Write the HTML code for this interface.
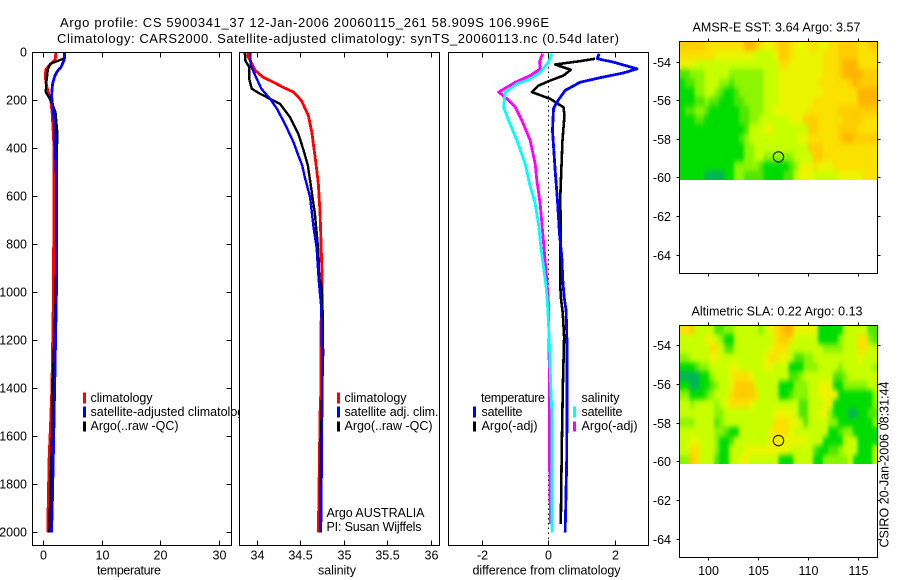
<!DOCTYPE html>
<html lang="en">
<head>
<meta charset="utf-8">
<title>Argo profile</title>
<style>
html,body{margin:0;padding:0;background:#fff;}
svg{display:block;font-family:"Liberation Sans",sans-serif;font-size:12.5px;fill:#000;}
text{fill:#000;}
</style>
</head>
<body>
<svg id="chart" xmlns="http://www.w3.org/2000/svg" width="900" height="580" viewBox="0 0 900 580">
<defs>
  <filter id="map-smooth" x="-5%" y="-5%" width="110%" height="110%" color-interpolation-filters="sRGB">
    <feGaussianBlur in="SourceGraphic" stdDeviation="1.6 2.6" result="soft"/>
    <feMerge><feMergeNode in="SourceGraphic"/><feMergeNode in="soft"/></feMerge>
  </filter>
  <clipPath id="clip-sst"><rect x="679.5" y="41.5" width="198" height="138.5"/></clipPath>
  <clipPath id="clip-sla"><rect x="679.5" y="325.5" width="198" height="138.5"/></clipPath>
</defs>
<rect x="0" y="0" width="900" height="580" fill="#fff"/>
<text x="60" y="27" font-size="13" textLength="489" lengthAdjust="spacing">Argo profile: CS 5900341_37 12-Jan-2006 20060115_261 58.909S 106.996E</text>
<text x="57" y="43" font-size="13" textLength="562" lengthAdjust="spacing">Climatology: CARS2000. Satellite-adjusted climatology: synTS_20060113.nc (0.54d later)</text>

<g id="panel-temp"></g>
<g id="panel-sal"></g>
<g id="panel-diff"></g>
<g id="panel-sst"></g>
<g id="panel-sla"></g>

<g id="legends">
  <rect x="337" y="392.5" width="3" height="11" fill="#f00"/>
  <rect x="337" y="406.5" width="3" height="11" fill="#00f"/>
  <rect x="337" y="421.5" width="3" height="10" fill="#000"/>
  <text x="344.5" y="402" textLength="62" lengthAdjust="spacing">climatology</text>
  <text x="344.5" y="416" textLength="94" lengthAdjust="spacing">satellite adj. clim.</text>
  <text x="344.5" y="430" textLength="88" lengthAdjust="spacing">Argo(..raw -QC)</text>
  <text x="326.5" y="517" textLength="98" lengthAdjust="spacing">Argo AUSTRALIA</text>
  <text x="326.5" y="531" textLength="95" lengthAdjust="spacing">PI: Susan Wijffels</text>

  <text x="481" y="402" textLength="64" lengthAdjust="spacing">temperature</text>
  <rect x="473" y="406.5" width="3" height="11" fill="#00f"/>
  <rect x="473" y="421.5" width="3" height="10" fill="#000"/>
  <text x="481.5" y="416" textLength="41" lengthAdjust="spacing">satellite</text>
  <text x="481.5" y="430" textLength="56" lengthAdjust="spacing">Argo(-adj)</text>
  <text x="581.5" y="402" textLength="38" lengthAdjust="spacing">salinity</text>
  <rect x="573" y="406.5" width="3" height="11" fill="#0ff"/>
  <rect x="573" y="421.5" width="3" height="10" fill="#f0f"/>
  <text x="581.5" y="416" textLength="41" lengthAdjust="spacing">satellite</text>
  <text x="581.5" y="430" textLength="56" lengthAdjust="spacing">Argo(-adj)</text>
</g>

<text x="97" y="574.5" textLength="64" lengthAdjust="spacing">temperature</text>
<text x="318" y="574.5" textLength="38" lengthAdjust="spacing">salinity</text>
<text x="472.5" y="574.5" textLength="148" lengthAdjust="spacing">difference from climatology</text>
<text x="692.5" y="31.5" textLength="168" lengthAdjust="spacing">AMSR-E SST: 3.64  Argo: 3.57</text>
<text x="691.5" y="315.5" textLength="171" lengthAdjust="spacing">Altimetric SLA: 0.22  Argo: 0.13</text>
<text transform="translate(888.5,547.5) rotate(-90)" textLength="166" lengthAdjust="spacing">CSIRO 20-Jan-2006 08:31:44</text>
</svg>

<script>
// ---- axis ticks ----
const depthTicks = [0,200,400,600,800,1000,1200,1400,1600,1800,2000];
const tempTicks = [0,10,20,30];
const salTicks = [34,34.5,35,35.5,36];
const salTickLabels = ['34','34.5','35','35.5','36'];
const diffTicks = [-2,0,2];
const lonTicks = [100,105,110,115];
const latTicks = [-54,-56,-58,-60,-62,-64];

// ---- temperature panel ----
const tempClimDepth = [0,30,50,70,100,130,160,200,260,400,1000,1400,1550,1680,1880,2000];
const tempClimValue = [2.1,2.0,1.15,0.4,0.3,0.45,0.75,1.25,1.5,1.8,1.7,1.43,1.2,0.97,0.8,0.75];
const tempSatDepth = [0,30,60,80,100,130,180,220,300,400,530,1000,1400,1450,1650,1880,2000];
const tempSatValue = [3.6,3.55,3.0,2.3,1.9,1.55,1.37,1.55,1.9,2.0,2.2,2.2,1.9,1.85,1.7,1.5,1.37];
const tempArgoDepth = [26,47,70,100,130,165,190,220,250,330,530,1000,1400,1600,1800,2000];
const tempArgoValue = [3.4,1.15,0.75,0.6,0.45,0.4,1.0,1.6,2.05,2.33,2.25,2.1,1.55,1.45,1.2,1.0];

// ---- salinity panel ----
const salClimDepth = [0,12,33,75,103,124,145,165,200,262,332,401,470,547,672,783,950,1150,1400,1500,1880,2000];
const salClimValue = [33.90,33.89,33.92,33.98,34.07,34.19,34.30,34.42,34.51,34.59,34.63,34.655,34.68,34.705,34.725,34.735,34.75,34.735,34.735,34.725,34.71,34.705];
const salSatDepth = [0,54,96,151,193,235,297,374,429,471,520,603,728,811,950,1047,1145,1395,1680,2000];
const salSatValue = [33.92,33.93,33.98,34.05,34.15,34.23,34.32,34.42,34.475,34.52,34.55,34.61,34.65,34.685,34.71,34.735,34.745,34.75,34.745,34.735];
const salArgoDepth = [0,33,61,110,151,172,193,214,270,339,401,471,533,671,825,936,978,1089,1255,1400,1680,2000];
const salArgoValue = [33.86,33.865,33.91,33.91,33.94,34.035,34.15,34.265,34.38,34.475,34.53,34.585,34.61,34.665,34.705,34.715,34.745,34.755,34.76,34.75,34.73,34.725];

// ---- difference panel ----
const diffTempSatDepth = [5,26,40,68,85,105,124,158,207,235,325,492,617,755,853,950,1019,1075,1228,1680,1880,2000];
const diffTempSatValue = [1.52,1.47,1.95,2.66,2.26,1.55,0.95,0.50,0.25,0.15,0.12,0.20,0.27,0.33,0.40,0.43,0.47,0.53,0.56,0.55,0.52,0.50];
const diffTempArgoDepth = [26,36,50,72,96,117,138,165,193,228,262,367,617,700,950,1019,1087,1186,1400,1640,1857,1965];
const diffTempArgoValue = [1.40,0.95,0.20,0.67,0.45,0.05,-0.30,-0.50,0.05,0.45,0.48,0.42,0.35,0.37,0.35,0.37,0.43,0.47,0.43,0.40,0.38,0.37];
const diffSalSatDepth = [5,40,82,110,131,165,228,283,367,464,547,631,714,811,894,978,1047,1130,1228,1400,1500,2000];
const diffSalSatValue = [0.10,0,-0.25,-0.55,-0.95,-1.30,-1.35,-1.20,-0.95,-0.70,-0.57,-0.40,-0.30,-0.23,-0.15,-0.07,-0.03,0,0.03,0.07,0.10,0.11];
const diffSalArgoDepth = [5,40,68,96,124,165,193,228,283,367,464,533,631,742,838,950,1047,1400,1700,1965];
const diffSalArgoValue = [-0.18,-0.27,-0.25,-0.55,-1.0,-1.50,-1.25,-1.0,-0.80,-0.55,-0.40,-0.35,-0.25,-0.18,-0.12,-0.05,0,0.03,0.03,0.06];

// ---- map markers ----
const floatLon = 106.996;
const floatLat = -58.909;

// ---- SST map, colour level per cell, north to south ----
const sstRows = [
[7,7,7,7,7,6,6,6,6,6,6,6,6,8,8,7,6,5,5,6,7,7,6,5,5,5,6,6,5,5,6,6,7,7,7,7,6,6,7,7],
[6,6,6,6,6,6,6,5,5,5,5,5,5,5,5,4,4,4,4,5,7,7,6,5,5,5,5,5,5,6,6,6,7,7,7,7,6,6,6,6],
[5,5,5,4,4,4,4,4,4,4,4,4,4,4,4,4,4,4,4,4,6,6,5,5,5,5,5,5,5,6,6,6,7,8,8,8,6,6,6,6],
[2,2,3,3,3,4,4,4,4,4,3,3,3,3,3,3,3,4,4,4,5,5,5,5,5,5,5,5,5,6,6,6,7,8,8,8,8,7,7,7],
[1,2,2,3,3,4,4,4,3,3,2,3,3,3,3,3,3,4,4,4,5,5,5,5,5,5,5,5,6,6,6,6,6,6,7,8,7,7,7,7],
[1,1,1,3,3,4,4,3,2,1,1,2,3,3,3,3,3,4,4,4,5,5,5,5,5,5,5,5,5,6,6,6,6,6,6,6,8,8,8,8],
[1,1,1,2,2,3,2,2,1,1,1,2,2,3,3,3,3,4,4,4,5,5,5,5,5,5,5,6,6,6,6,6,6,6,6,6,8,8,8,8],
[1,2,2,3,3,2,1,1,1,1,1,1,2,2,3,3,3,4,4,5,5,5,5,5,5,5,6,6,6,6,6,6,7,7,7,7,7,7,7,7],
[1,1,1,2,2,1,1,1,1,1,1,1,2,2,3,3,4,4,4,4,4,4,5,5,5,7,7,7,6,6,6,6,6,7,7,7,7,6,6,6],
[1,1,1,1,1,1,1,1,1,1,1,1,1,2,4,4,4,5,5,4,4,4,4,4,4,4,7,7,6,6,6,6,7,7,7,7,6,6,6,6],
[1,1,1,1,1,1,1,1,1,1,1,1,2,3,4,4,4,4,4,4,4,4,4,4,5,5,6,6,6,6,6,6,7,8,8,7,7,7,7,7],
[1,1,1,1,1,1,1,1,1,1,1,1,1,3,3,4,4,4,4,4,4,4,4,4,4,4,7,7,7,6,6,6,6,6,6,6,6,6,6,6],
[1,1,1,1,1,1,1,1,1,1,1,1,1,3,3,4,4,3,3,3,3,3,3,4,4,4,4,7,7,6,6,6,6,6,6,6,6,6,6,6],
[1,1,1,1,1,1,1,1,1,1,1,3,3,3,3,3,2,1,1,1,1,1,2,3,5,5,5,6,5,5,5,6,6,6,6,6,6,6,6,6],
[1,1,1,1,1,0,0,0,0,1,1,3,3,2,2,2,2,1,1,1,1,2,2,4,5,5,5,4,4,4,4,4,5,5,5,5,5,6,6,6]
];

// ---- SLA map, colour level per cell, north to south ----
const slaRows = [
[6,6,7,4,4,4,4,2,2,3,3,4,4,4,4,4,3,4,5,6,7,8,8,5,5,5,5,5,1,1,1,1,1,4,4,4,4,4,2,2],
[4,4,4,4,4,5,5,4,3,1,1,4,4,4,4,4,4,4,4,6,7,7,6,4,4,4,4,4,1,1,1,1,3,4,4,4,6,6,3,2],
[4,4,4,4,4,4,6,6,4,2,2,4,4,4,4,4,4,4,5,6,6,6,4,4,4,4,4,4,4,3,3,3,3,4,4,4,6,6,4,4],
[3,3,4,4,4,4,5,5,4,4,4,4,4,4,4,4,4,5,6,6,5,5,4,2,2,3,3,4,4,4,4,4,4,4,4,4,5,4,4,4],
[1,1,1,2,3,3,4,4,4,4,5,5,4,4,4,4,4,5,5,4,4,4,1,1,1,3,3,3,4,4,4,4,3,4,4,4,4,4,4,3],
[0,0,0,0,1,1,3,4,4,4,5,6,6,6,5,4,4,4,4,4,4,4,2,2,3,4,4,4,4,4,4,2,2,3,4,4,4,4,4,4],
[1,1,0,0,1,1,2,3,4,4,5,7,7,7,7,4,4,4,4,4,1,1,1,3,3,3,4,4,5,5,5,1,1,3,3,3,3,3,4,4],
[3,3,1,1,1,2,3,4,4,4,6,7,7,7,7,6,4,4,4,4,1,1,2,3,3,3,4,4,5,5,5,5,1,1,1,1,1,1,1,3],
[4,4,3,4,4,4,4,3,4,5,6,6,6,6,5,4,4,4,4,4,4,4,4,4,2,2,4,4,4,5,5,1,1,1,1,1,1,1,1,3],
[4,4,4,4,4,4,4,3,3,4,4,4,4,4,4,4,4,4,4,5,5,5,5,4,2,2,4,4,5,5,3,1,1,1,0,0,1,1,2,2],
[3,3,3,4,4,4,4,2,3,4,4,4,4,4,4,4,4,4,4,6,6,6,5,5,4,2,4,4,4,4,3,3,1,1,1,1,1,1,1,3],
[4,4,4,4,4,4,4,3,3,2,1,1,4,4,4,4,4,4,5,6,6,6,5,4,4,4,4,4,4,4,1,1,2,3,3,1,1,1,1,1],
[4,4,5,5,4,4,4,3,1,1,2,4,4,4,4,4,4,4,5,6,5,5,5,5,5,5,4,4,4,1,1,1,1,4,4,4,1,1,1,1],
[4,4,6,6,4,4,4,3,1,1,4,4,4,5,5,5,5,5,5,5,5,5,4,4,4,4,4,2,1,1,2,2,3,4,4,4,1,1,1,4],
[3,3,7,6,4,4,4,2,1,1,4,4,5,5,4,4,4,4,4,4,1,1,1,4,4,4,4,1,1,3,3,3,3,3,4,1,1,1,1,4]
];

const NS = 'http://www.w3.org/2000/svg';
const levelColors = ['#00b45a','#00dc00','#50e600','#8cf500','#c8ff00','#ebf500','#fae100','#ffcd00','#ffb400'];

function make(tag, parent, attrs, txt) {
  const el = document.createElementNS(NS, tag);
  for (const k in attrs) el.setAttribute(k, attrs[k]);
  if (txt !== undefined) el.textContent = txt;
  parent.appendChild(el);
  return el;
}

// axis functions
const yDepth = d => 52.5 + 0.24 * d;
const xTemp = v => 43.5 + 5.87 * v;
const xSal = v => 257 + 87 * (v - 34);
const xDiff = v => 548.5 + 33.25 * v;
const xLon = v => 708.5 + 10 * (v - 100);
const ySst = v => 62 + 19.33 * (-54 - v);
const ySla = v => 345.7 + 19.33 * (-54 - v);

function tickLine(parent, x1, y1, x2, y2, name) {
  const t = make('line', parent, {x1:x1, y1:y1, x2:x2, y2:y2, stroke:'#000', 'stroke-width':1, 'shape-rendering':'crispEdges'});
  
  
}

function drawProfileFrame(g, left, right, xFn, ticks, labels, withDepthTicks) {
  const top = 52.5, bottom = 545.5;
  const bg = make('rect', g, {x:left, y:top, width:right-left, height:bottom-top, fill:'#fff'});
  
  
  ticks.forEach((v, i) => {
    const x = Math.floor(xFn(v)) + 0.5;
    tickLine(g, x, top, x, top + 5, 'x-tick-top');
    tickLine(g, x, bottom, x, bottom - 5, 'x-tick-bottom');
    const lb = make('text', g, {x:x, y:559.5, 'text-anchor':'middle'}, labels[i]);
    
    
  });
  if (withDepthTicks) {
    depthTicks.forEach(d => {
      const y = Math.floor(yDepth(d)) + 0.5;
      tickLine(g, left, y, left + 5, y, 'depth-tick-left');
      tickLine(g, right, y, right - 5, y, 'depth-tick-right');
      const lb = make('text', g, {x:27, y:y + 4, 'text-anchor':'end'}, String(d));
      
      
    });
  }
}

function drawFrameBox(g, left, right) {
  const box = make('rect', g, {x:left, y:52.5, width:right-left, height:493, fill:'none', stroke:'#000', 'stroke-width':1, 'shape-rendering':'crispEdges'});
  
  
}

function drawProfile(g, xFn, depths, values, color, width, name) {
  const pts = depths.map((d, i) => xFn(values[i]).toFixed(2) + ',' + yDepth(d).toFixed(2)).join(' ');
  const line = make('polyline', g, {points:pts, fill:'none', stroke:color, 'stroke-width':width, 'stroke-linejoin':'round', 'shape-rendering':'crispEdges'});
  
  
}

// temperature panel
const gT = document.getElementById('panel-temp');
drawProfileFrame(gT, 32.5, 231.5, xTemp, tempTicks, tempTicks.map(String), true);
drawProfile(gT, xTemp, tempClimDepth, tempClimValue, '#f00', 2.8, 'temperature-climatology-line');
drawProfile(gT, xTemp, tempArgoDepth, tempArgoValue, '#000', 2.4, 'temperature-argo-line');
drawProfile(gT, xTemp, tempSatDepth, tempSatValue, '#00f', 2.8, 'temperature-satellite-line');
drawFrameBox(gT, 32.5, 231.5);
const tSwatchRed = make('rect', gT, {x:83, y:392.5, width:3, height:11, fill:'#f00'});


const tSwatchBlue = make('rect', gT, {x:83, y:406.5, width:3, height:11, fill:'#00f'});


const tSwatchBlack = make('rect', gT, {x:83, y:421.5, width:3, height:10, fill:'#000'});


const tLeg1 = make('text', gT, {x:90.5, y:402, textLength:62, lengthAdjust:'spacing'}, 'climatology');


const tLeg2 = make('text', gT, {x:90.5, y:416, textLength:160, lengthAdjust:'spacing'}, 'satellite-adjusted climatology');


const tLeg3 = make('text', gT, {x:90.5, y:430, textLength:88, lengthAdjust:'spacing'}, 'Argo(..raw -QC)');



// salinity panel (its white background hides the overflowing temperature legend)
const gS = document.getElementById('panel-sal');
drawProfileFrame(gS, 239.5, 439.5, xSal, salTicks, salTickLabels, false);
drawProfile(gS, xSal, salClimDepth, salClimValue, '#f00', 2.8, 'salinity-climatology-line');
drawProfile(gS, xSal, salArgoDepth, salArgoValue, '#000', 2.4, 'salinity-argo-line');
drawProfile(gS, xSal, salSatDepth, salSatValue, '#00f', 2.4, 'salinity-satellite-line');
drawFrameBox(gS, 239.5, 439.5);

// difference panel
const gD = document.getElementById('panel-diff');
drawProfileFrame(gD, 448.5, 648.5, xDiff, diffTicks, diffTicks.map(v => v < 0 ? '-' + Math.abs(v) : String(v)), false);
const zeroLine = make('line', gD, {x1:xDiff(0), y1:52.5, x2:xDiff(0), y2:545.5, stroke:'#000', 'stroke-width':1.2, 'stroke-dasharray':'1.5 3.3', 'shape-rendering':'crispEdges'});


drawProfile(gD, xDiff, diffTempArgoDepth, diffTempArgoValue, '#000', 2.6, 'difference-temperature-argo-line');
drawProfile(gD, xDiff, diffTempSatDepth, diffTempSatValue, '#00f', 2.8, 'difference-temperature-satellite-line');
drawProfile(gD, xDiff, diffSalArgoDepth, diffSalArgoValue, '#f0f', 2.8, 'difference-salinity-argo-line');
drawProfile(gD, xDiff, diffSalSatDepth, diffSalSatValue, '#0ff', 2.8, 'difference-salinity-satellite-line');
drawFrameBox(gD, 448.5, 648.5);

// maps
function drawMap(g, rows, yFn, frameTop, frameBottom, showLonLabels, cellName, clipId) {
  const left = 679.5, right = 877.5;
  const gridTop = frameTop, gridBottom = frameTop + 138.5;
  const cellH = (gridBottom - gridTop) / rows.length;
  const cellW = (right - left) / rows[0].length;
  const clipGroup = make('g', g, {'clip-path':'url(#' + clipId + ')'});
  
  
  const cells = make('g', clipGroup, {filter:'url(#map-smooth)'});
  
  
  rows.forEach((row, r) => {
    row.forEach((level, c) => {
      const cell = make('rect', cells, {x:(left + c * cellW).toFixed(2), y:(gridTop + r * cellH).toFixed(2), width:(cellW + 0.4).toFixed(2), height:(cellH + 0.4).toFixed(2), fill:levelColors[level], 'shape-rendering':'crispEdges'});
      
      
    });
  });
  const frame = make('rect', g, {x:left, y:frameTop, width:right-left, height:frameBottom-frameTop, fill:'none', stroke:'#000', 'stroke-width':1, 'shape-rendering':'crispEdges'});
  
  
  lonTicks.forEach(v => {
    const x = Math.floor(xLon(v)) + 0.5;
    tickLine(g, x, frameTop, x, frameTop - 3, 'lon-tick-top');
    tickLine(g, x, frameBottom, x, frameBottom + 3, 'lon-tick-bottom');
    if (showLonLabels) {
      const lb = make('text', g, {x:x, y:575, 'text-anchor':'middle'}, String(v));
      
      
    }
  });
  latTicks.forEach(v => {
    const y = Math.floor(yFn(v)) + 0.5;
    tickLine(g, left, y, left - 3, y, 'lat-tick-left');
    tickLine(g, right, y, right + 3, y, 'lat-tick-right');
    const lb = make('text', g, {x:671, y:y + 4.5, 'text-anchor':'end'}, String(v));
    
    
  });
  const mark = make('circle', g, {cx:xLon(floatLon), cy:yFn(floatLat), r:5.2, fill:'none', stroke:'#000', 'stroke-width':1});
  
  
}
drawMap(document.getElementById('panel-sst'), sstRows, ySst, 41.5, 273.5, false, 'sst-cell', 'clip-sst');
drawMap(document.getElementById('panel-sla'), slaRows, ySla, 325.5, 557.5, true, 'sla-cell', 'clip-sla');
</script>
</body>
</html>
